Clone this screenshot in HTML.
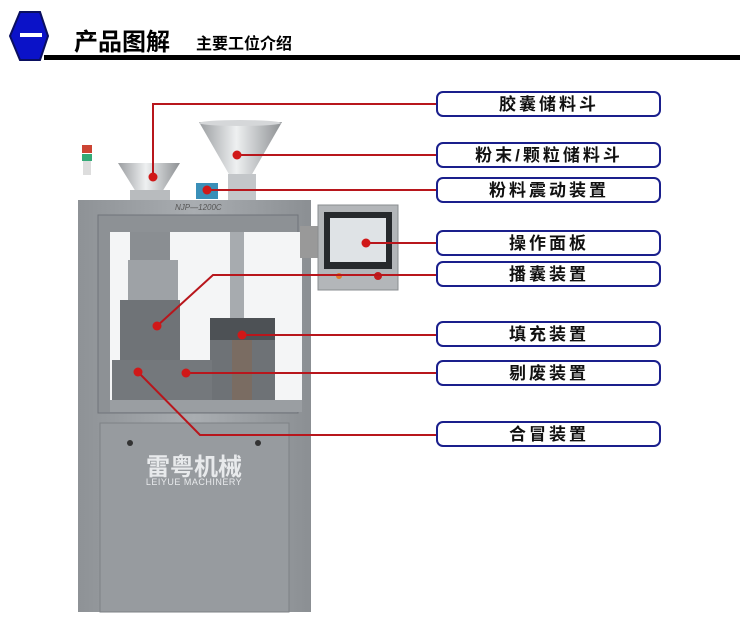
<!DOCTYPE html>
<html><head><meta charset="utf-8"><style>
body{margin:0;background:#fff;width:750px;height:624px;overflow:hidden;font-family:"Liberation Sans","Noto Sans CJK SC",sans-serif}
</style></head><body>
<svg width="750" height="624" viewBox="0 0 750 624" xmlns="http://www.w3.org/2000/svg" style="font-family:'Liberation Sans','Noto Sans CJK SC',sans-serif">
<defs>
<linearGradient id="cab" x1="0" x2="1"><stop offset="0" stop-color="#8e9296"/><stop offset="0.5" stop-color="#a9adb1"/><stop offset="1" stop-color="#8b8f93"/></linearGradient>
<linearGradient id="hop" x1="0" x2="1"><stop offset="0" stop-color="#9a9da0"/><stop offset="0.45" stop-color="#eef0f1"/><stop offset="1" stop-color="#8d9093"/></linearGradient>
</defs>
<!-- header -->
<polygon points="20,12 40,12 48,36 40,60 20,60 10,36" fill="#0b12c8" stroke="#0a0f60" stroke-width="2"/>
<rect x="20" y="33" width="22" height="4" fill="#fff"/>
<text x="74" y="50" font-size="24" font-weight="bold" fill="#000">产品图解</text>
<text x="196" y="49" font-size="16" font-weight="bold" fill="#000">主要工位介绍</text>
<rect x="44" y="55" width="696" height="5" fill="#000"/>
<!-- machine -->
<rect x="78" y="200" width="233" height="412" fill="url(#cab)"/>
<rect x="100" y="423" width="189" height="189" fill="#979b9f" stroke="#7e8286"/>
<rect x="98" y="215" width="200" height="198" fill="#8d9195" stroke="#70747a"/>
<rect x="110" y="232" width="192" height="178" fill="#f4f5f6"/>
<rect x="130" y="232" width="40" height="170" fill="#8a8e92"/>
<rect x="120" y="300" width="60" height="100" fill="#6f7377"/>
<rect x="128" y="260" width="50" height="40" fill="#9ea2a6"/>
<rect x="230" y="232" width="14" height="100" fill="#a7abaf"/>
<rect x="210" y="320" width="65" height="90" fill="#6e7276"/>
<rect x="210" y="318" width="65" height="22" fill="#4d5155"/>
<rect x="232" y="340" width="20" height="70" fill="#7a6c62"/>
<rect x="112" y="360" width="100" height="45" fill="#74787c"/>
<rect x="110" y="400" width="192" height="12" fill="#9a9ea2"/>
<text x="175" y="210" font-size="8" font-style="italic" fill="#555">NJP—1200C</text>
<text x="194" y="475" font-size="24" font-weight="bold" fill="#e8eaec" text-anchor="middle">雷粤机械</text>
<text x="194" y="485" font-size="9" fill="#e8eaec" text-anchor="middle" letter-spacing="0.5">LEIYUE MACHINERY</text>
<circle cx="130" cy="443" r="3" fill="#333"/><circle cx="258" cy="443" r="3" fill="#333"/>
<!-- hoppers -->
<polygon points="118,163 180,163 162,192 136,192" fill="url(#hop)"/>
<rect x="130" y="190" width="40" height="10" fill="#b8bbbe"/>
<polygon points="199,122 282,122 251,176 230,176" fill="url(#hop)"/>
<ellipse cx="240" cy="123" rx="41" ry="3" fill="#d5d7d9"/>
<rect x="228" y="174" width="28" height="26" fill="#c3c6c9"/>
<rect x="196" y="183" width="22" height="16" fill="#3a8fb8"/>
<!-- light tower -->
<rect x="82" y="145" width="10" height="8" fill="#c43"/><rect x="82" y="154" width="10" height="7" fill="#3a7"/><rect x="83" y="161" width="8" height="14" fill="#ddd"/>
<!-- panel -->
<rect x="300" y="226" width="20" height="32" fill="#999"/>
<rect x="318" y="205" width="80" height="85" fill="#b3b6b9" stroke="#8a8d90"/>
<rect x="324" y="212" width="68" height="57" fill="#26292c"/>
<rect x="330" y="218" width="56" height="44" fill="#dfe3e6"/>
<circle cx="339" cy="276" r="3" fill="#e07b2a"/><circle cx="378" cy="276" r="4" fill="#c21b1b"/>
<!-- red connectors -->
<g stroke="#b8161c" stroke-width="2" fill="none">
<polyline points="153,177 153,104 437,104"/>
<line x1="237" y1="155" x2="437" y2="155"/>
<line x1="207" y1="190" x2="437" y2="190"/>
<line x1="366" y1="243" x2="437" y2="243"/>
<polyline points="157,326 213,275 437,275"/>
<line x1="242" y1="335" x2="437" y2="335"/>
<line x1="186" y1="373" x2="437" y2="373"/>
<polyline points="138,372 200,435 437,435"/>
</g>
<g fill="#d01818">
<circle cx="153" cy="177" r="4.5"/><circle cx="237" cy="155" r="4.5"/><circle cx="207" cy="190" r="4.5"/><circle cx="366" cy="243" r="4.5"/><circle cx="157" cy="326" r="4.5"/><circle cx="242" cy="335" r="4.5"/><circle cx="186" cy="373" r="4.5"/><circle cx="138" cy="372" r="4.5"/>
</g>
<!-- label boxes -->
<g stroke="#1a1f8c" stroke-width="2" fill="#fff">
<rect x="437" y="92" width="223" height="24" rx="6"/>
<rect x="437" y="143" width="223" height="24" rx="6"/>
<rect x="437" y="178" width="223" height="24" rx="6"/>
<rect x="437" y="231" width="223" height="24" rx="6"/>
<rect x="437" y="262" width="223" height="24" rx="6"/>
<rect x="437" y="322" width="223" height="24" rx="6"/>
<rect x="437" y="361" width="223" height="24" rx="6"/>
<rect x="437" y="422" width="223" height="24" rx="6"/>
</g>
<g font-size="17" font-weight="bold" fill="#111" text-anchor="middle" letter-spacing="3">
<text x="549" y="110">胶囊储料斗</text>
<text x="549" y="161">粉末/颗粒储料斗</text>
<text x="549" y="196">粉料震动装置</text>
<text x="549" y="249">操作面板</text>
<text x="549" y="280">播囊装置</text>
<text x="549" y="340">填充装置</text>
<text x="549" y="379">剔废装置</text>
<text x="549" y="440">合冒装置</text>
</g>
</svg>
</body></html>
